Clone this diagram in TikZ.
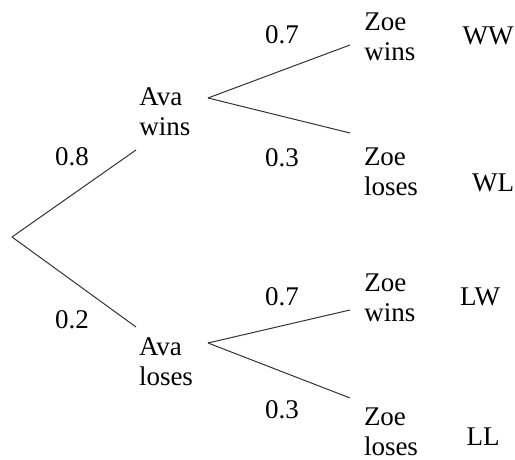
\documentclass[tikz,border=0pt]{standalone}
\usepackage{fontspec}
\setmainfont{Liberation Serif}
\usetikzlibrary{calc}

\begin{document}
\begin{tikzpicture}[x=0.5pt,y=0.5pt,
    branch/.style={draw=black!80,line width=0.5pt},
    outcome/.style={align=left,inner sep=0pt,font=\fontsize{13.5}{15}\selectfont},
    prob/.style={inner sep=0pt,font=\fontsize{13.5}{15}\selectfont}]

    % Fix the size of the picture to the reference
    \useasboundingbox (0,0) rectangle (515,460);

    % Root of the tree and the ends of the first branches
    \coordinate (O) at (12,223);
    \coordinate (Aw) at (136,310);
    \coordinate (Al) at (136,133);

    % Forks of the second stage and the ends of their branches
    \coordinate (Fw) at (208,362);
    \coordinate (Fl) at (208,117);
    \coordinate (Aww) at (350,415);
    \coordinate (Awl) at (350,327);
    \coordinate (Alw) at (350,150);
    \coordinate (All) at (350,62);

    % Draw the branches of the tree
    \draw[branch] (O) -- (Aw);
    \draw[branch] (O) -- (Al);
    \draw[branch] (Fw) -- (Aww);
    \draw[branch] (Fw) -- (Awl);
    \draw[branch] (Fl) -- (Alw);
    \draw[branch] (Fl) -- (All);

    % Outcomes of Ava's game
    \node[outcome] (avawins) at (165,348) {Ava\\wins};
    \node[outcome] (avaloses) at (166,98) {Ava\\loses};

    % Outcomes of Zoe's game
    \node[outcome] (zoeww) at (390,423) {Zoe\\wins};
    \node[outcome] (zoewl) at (391,288) {Zoe\\loses};
    \node[outcome] (zoelw) at (390,162) {Zoe\\wins};
    \node[outcome] (zoell) at (391,28) {Zoe\\loses};

    % Probabilities on the branches
    \node[prob] (p08) at (72,303) {0.8};
    \node[prob] (p02) at (72,140) {0.2};
    \node[prob] (p07a) at (282,425) {0.7};
    \node[prob] (p03a) at (282,302) {0.3};
    \node[prob] (p07b) at (282,163) {0.7};
    \node[prob] (p03b) at (282,50) {0.3};

    % Labels of the combined outcomes
    \node[prob] (ww) at (488,424) {WW};
    \node[prob] (wl) at (493,277) {WL};
    \node[prob] (lw) at (480,163) {LW};
    \node[prob] (ll) at (483,23) {LL};

\end{tikzpicture}
\end{document}
